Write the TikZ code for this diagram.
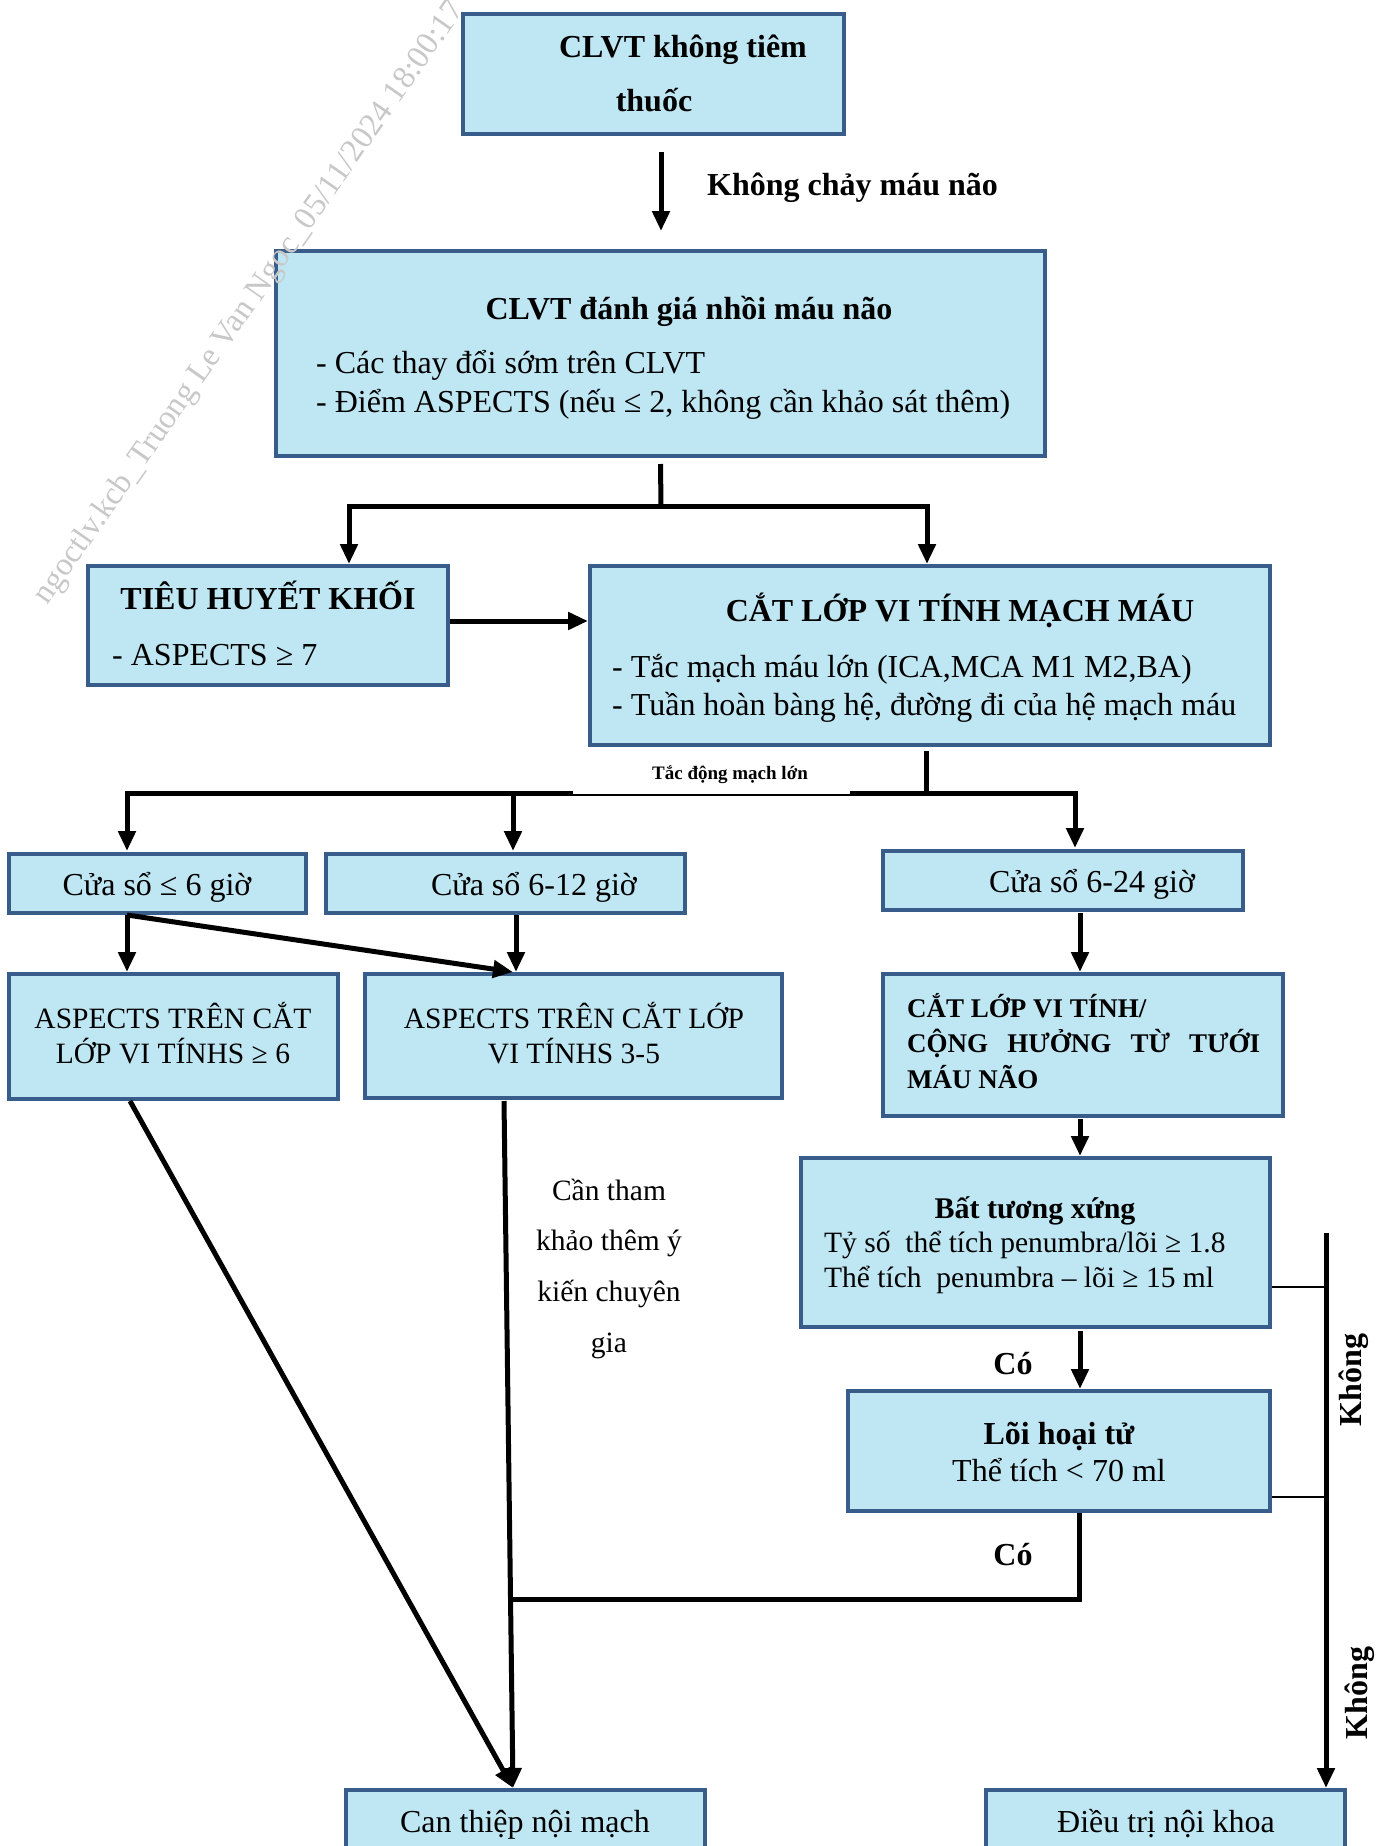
\documentclass[tikz,border=0pt]{standalone}
\usepackage{fontspec}
\setmainfont{Liberation Serif}
\usetikzlibrary{arrows.meta,calc}
\definecolor{fillc}{RGB}{190,230,243}
\definecolor{bordc}{RGB}{56,93,138}
\definecolor{wmc}{RGB}{200,200,200}
\tikzset{
  box/.style={draw=bordc, fill=fillc, line width=4pt, inner sep=0pt},
  conn/.style={line width=5pt},
  thinl/.style={line width=2pt},
  arr/.style={line width=5pt, -{Triangle[length=20pt,width=17pt]}},
  txt/.style={inner sep=0pt, font=\fontsize{32}{38}\selectfont},
  btxt/.style={inner sep=0pt, font=\fontsize{32}{38}\selectfont\bfseries},
  mtxt/.style={inner sep=0pt, font=\fontsize{29.5}{35}\selectfont},
  bmtxt/.style={inner sep=0pt, font=\fontsize{27}{33}\selectfont\bfseries},
}
\begin{document}
\begin{tikzpicture}[x=1pt,y=-1pt]
\fill[white] (0,0) rectangle (1392,1846);
\useasboundingbox (0,0) rectangle (1392,1846);

% ---------- boxes ----------
\node[box, minimum width=381pt, minimum height=120pt] (b1) at (653.5,74) {};
\node[box, minimum width=769pt, minimum height=205pt] (b2) at (660.5,353.5) {};
\node[box, minimum width=360pt, minimum height=119pt] (b3) at (268,625.5) {};
\node[box, minimum width=680pt, minimum height=179pt] (b4) at (930,655.5) {};
\node[box, minimum width=297pt, minimum height=59pt] (b5) at (157.5,883.5) {};
\node[box, minimum width=359pt, minimum height=59pt] (b6) at (505.5,883.5) {};
\node[box, minimum width=360pt, minimum height=59pt] (b7) at (1063,880.5) {};
\node[box, minimum width=329pt, minimum height=125pt] (b8) at (173.5,1036.5) {};
\node[box, minimum width=417pt, minimum height=124pt] (b9) at (573.5,1036) {};
\node[box, minimum width=400pt, minimum height=142pt] (b10) at (1083,1045) {};
\node[box, minimum width=469pt, minimum height=169pt] (b11) at (1035.5,1242.5) {};
\node[box, minimum width=422pt, minimum height=120pt] (b12) at (1059,1451) {};
\node[box, minimum width=359pt, minimum height=64pt] (b13) at (525.5,1822) {};
\node[box, minimum width=359pt, minimum height=64pt] (b14) at (1165.5,1822) {};

% ---------- texts ----------
\node[btxt, anchor=mid] (t1a) at (683,55) {CLVT không tiêm};
\node[btxt, anchor=mid] (t1b) at (654,109) {thuốc};
\node[btxt, anchor=mid west] (lbl1) at (707,193) {Không chảy máu não};

\node[btxt, anchor=mid] (t2a) at (689,317) {CLVT đánh giá nhồi máu não};
\node[txt, anchor=mid west] (t2b) at (316,371) {- Các thay đổi sớm trên CLVT};
\node[txt, anchor=mid west] (t2c) at (316,410) {- Điểm ASPECTS (nếu ≤ 2, không cần khảo sát thêm)};

\node[btxt, anchor=mid] (t3a) at (268,607) {TIÊU HUYẾT KHỐI};
\node[txt, anchor=mid west] (t3b) at (112,663) {- ASPECTS ≥ 7};

\node[btxt, anchor=mid] (t4a) at (960,619) {CẮT LỚP VI TÍNH MẠCH MÁU};
\node[txt, anchor=mid west] (t4b) at (612,675) {- Tắc mạch máu lớn (ICA,MCA M1 M2,BA)};
\node[txt, anchor=mid west] (t4c) at (612,713) {- Tuần hoàn bàng hệ, đường đi của hệ mạch máu};

\node[inner sep=0pt, anchor=mid, font=\fontsize{19}{23}\selectfont\bfseries] (lbl2) at (730,777) {Tắc động mạch lớn};

\node[txt, anchor=mid] (t5) at (157,893) {Cửa sổ ≤ 6 giờ};
\node[txt, anchor=mid] (t6) at (534,893) {Cửa sổ 6-12 giờ};
\node[txt, anchor=mid] (t7) at (1092,890) {Cửa sổ 6-24 giờ};

\node[mtxt, anchor=mid] (t8a) at (173,1026) {ASPECTS TRÊN CẮT};
\node[mtxt, anchor=mid] (t8b) at (173,1061) {LỚP VI TÍNHS ≥ 6};
\node[mtxt, anchor=mid] (t9a) at (574,1026) {ASPECTS TRÊN CẮT LỚP};
\node[mtxt, anchor=mid] (t9b) at (574,1061) {VI TÍNHS 3-5};

\node[bmtxt, anchor=mid west] (t10a) at (907,1015) {CẮT LỚP VI TÍNH/};
\node[bmtxt, anchor=mid west] (t10b) at (907,1050) {\makebox[353pt][s]{CỘNG\hfill HƯỞNG\hfill TỪ\hfill TƯỚI}};
\node[bmtxt, anchor=mid west] (t10c) at (907,1086) {MÁU NÃO};

\node[inner sep=0pt, anchor=mid, font=\fontsize{30}{36}\selectfont\bfseries] (t11a) at (1035,1216) {Bất tương xứng};
\node[mtxt, anchor=mid west] (t11b) at (824,1250) {Tỷ số~ thể tích penumbra/lõi ≥ 1.8};
\node[mtxt, anchor=mid west] (t11c) at (824,1285) {Thể tích~ penumbra – lõi ≥ 15 ml};

\node[btxt, anchor=mid] (t12a) at (1059,1442) {Lõi hoại tử};
\node[txt, anchor=mid] (t12b) at (1059,1479) {Thể tích < 70 ml};

\node[mtxt, anchor=mid] (c1) at (609,1198) {Cần tham};
\node[mtxt, anchor=mid] (c2) at (609,1248) {khảo thêm ý};
\node[mtxt, anchor=mid] (c3) at (609,1299) {kiến chuyên};
\node[mtxt, anchor=mid] (c4) at (609,1350) {gia};

\node[btxt, anchor=mid] (co1) at (1013,1372) {Có};
\node[btxt, anchor=mid] (co2) at (1013,1563) {Có};
\node[btxt, rotate=90] (k1) at (1354,1380) {Không};
\node[btxt, rotate=90] (k2) at (1360,1693) {Không};

\node[txt, anchor=mid] (t13) at (525,1830) {Can thiệp nội mạch};
\node[txt, anchor=mid] (t14) at (1166,1830) {Điều trị nội khoa};

% ---------- connectors ----------
\coordinate (j1) at (661,506);
\coordinate (b3in) at (349,564);
\coordinate (b4in) at (927,564);
\coordinate (j2) at (926,793);
\coordinate (b5in) at (127,851);
\coordinate (b6in) at (513,851);
\coordinate (b7in) at (1075,848);
\coordinate (b5out) at (127,915);
\coordinate (b8in) at (127,972);
\coordinate (b9in) at (513,972);
\coordinate (b6out) at (516,915);
\coordinate (b9in2) at (516,972);
\coordinate (b7out) at (1080,913);
\coordinate (b10in) at (1080,972);
\coordinate (b10out) at (1080,1119);
\coordinate (b11in) at (1080,1156);
\coordinate (b11out) at (1080,1331);
\coordinate (b12in) at (1080,1389);
\coordinate (b12out) at (1079,1513);
\coordinate (j3) at (1079,1599);
\coordinate (j4) at (511,1599);
\coordinate (b9out) at (504,1101);
\coordinate (b8out) at (130,1101);
\coordinate (b13in) at (513,1788);
\coordinate (j5) at (1326,1233);
\coordinate (b14in) at (1326,1788);

\draw[arr] ([xshift=7.5pt,yshift=-16pt]b1.south) -- ([xshift=0.5pt,yshift=18pt]b2.north);
\draw[conn] ([yshift=-6pt]b2.south) -- (j1);
\draw[arr] (j1) -| (b3in);
\draw[arr] (j1) -| (b4in);
\draw[arr] ([yshift=4.5pt]b3.east) -- ([yshift=4.5pt]b3.east -| b4.west);
\draw[conn] ([xshift=-4pt,yshift=-4pt]b4.south) -- (j2);
\draw[arr] (j2 -| 850,0) -- (j2) -| (b7in);
\draw[arr] (573,793) -- (b5in |- j2) -- (b5in);
\draw[arr] (b6in |- j2) -- (b6in);
\draw[thinl] (573,794.5) -- (850,794.5);
\draw[arr] (b5out) -- (b8in);
\draw[arr] (b5out) -- (b9in);
\draw[arr] (b6out) -- (b9in2);
\draw[arr] (b7out) -- (b10in);
\draw[arr] (b10out) -- (b11in);
\draw[arr] (b11out) -- (b12in);
\draw[conn] (b12out) -- (j3) -- (j4);
\draw[arr] (b9out) -- (b13in);
\draw[arr] (b8out) -- (b13in);
\draw[arr] (j5) -- (b14in);
\draw[thinl] (b11.east |- 0,1287) -- (1326,1287);
\draw[thinl] (b12.east |- 0,1497) -- (1326,1497);

% ---------- watermark ----------
\node[rotate=55, text=wmc, inner sep=0pt, font=\fontsize{32.5}{38}\selectfont] (wm) at (250,303) {ngoctlv.kcb\_Truong Le Van Ngoc\_05/11/2024 18:00:17};
\end{tikzpicture}
\end{document}
